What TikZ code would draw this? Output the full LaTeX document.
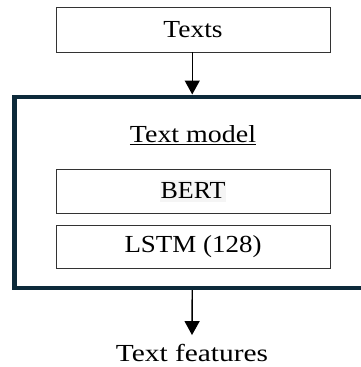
\documentclass[tikz,border=0pt]{standalone}
\usepackage{fontspec}
\setmainfont{Liberation Serif}
\usetikzlibrary{arrows.meta}
\definecolor{framecol}{HTML}{0D2A3A}
\definecolor{boxcol}{HTML}{333333}
\newcommand{\wid}[2]{\scalebox{#1}[1]{#2}}
\tikzset{
  box/.style={draw=boxcol, line width=0.9pt, minimum width=274pt, inner sep=0pt, font=\fontsize{24.5}{28}\selectfont},
  frame/.style={draw=framecol, line width=4.4pt, inner sep=0pt},
  arr/.style={draw=black, line width=1.4pt, -{Triangle[length=14pt,width=15pt]}},
  lbl/.style={inner sep=0pt, font=\fontsize{24.5}{28}\selectfont}
}
\begin{document}
\begin{tikzpicture}[x=1pt,y=-1pt]
\clip (0,0) rectangle (361,367);
\useasboundingbox (0,0) rectangle (361,367);
\node[box, minimum height=45pt] (texts) at (193,29.5) {\wid{1.12}{Texts}};
\node[frame, minimum width=355.5pt, minimum height=191.3pt] (frame) at (192.25,192.35) {};
\node[lbl] (title) at (193,135) {\underline{\wid{1.14}{Text model}}};
\node[box, minimum height=44pt] (bert) at (193,191) {\colorbox{gray!8}{\hspace{-2pt}\wid{1.06}{BERT}\hspace{-2pt}}};
\node[box, minimum height=43pt] (lstm) at (193,246.5) {\wid{1.1}{LSTM (128)}};
\node[lbl, inner ysep=9pt] (feat) at (192,353) {\wid{1.2}{Text features}};
\draw[arr] (texts.south -| frame.north) -- (frame.north);
\draw[arr] (frame.south) -- (feat.north);
\end{tikzpicture}
\end{document}
